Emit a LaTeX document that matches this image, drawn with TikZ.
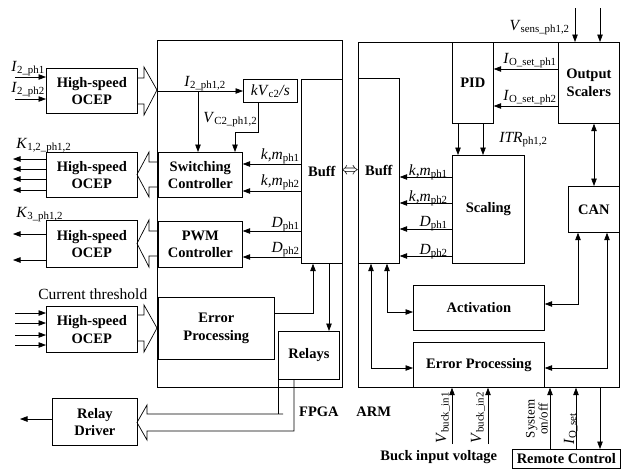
\documentclass[tikz,border=0pt]{standalone}
\usepackage{fontspec}
\setmainfont{Liberation Serif}
\usetikzlibrary{arrows.meta}
\newcommand\vs[2]{\textit{#1}\textsubscript{#2}}
\begin{document}
\begin{tikzpicture}[x=1pt,y=-1pt, line width=0.7pt,
 box/.style={draw, inner sep=0pt, align=center, anchor=north west, font=\bfseries\fontsize{14.5}{17.5}\selectfont},
 lab/.style={inner sep=0pt, font=\fontsize{15.5}{17}\selectfont},
 blab/.style={inner sep=0pt, font=\bfseries\fontsize{14.5}{17}\selectfont},
 arr/.style={-{Triangle[length=7.5pt,width=5.5pt]}},
 darr/.style={{Triangle[length=7.5pt,width=5.5pt]}-{Triangle[length=7.5pt,width=5.5pt]}}]
\useasboundingbox (0,0) rectangle (622,469);

% big frames
\node[box, minimum width=185pt, minimum height=347pt] (fpga) at (157,40) {};
\node[box, minimum width=261pt, minimum height=345pt] (arm) at (358,42) {};

% FPGA side
\node[box, minimum width=91pt, minimum height=45pt] (oc1) at (46,68) {High-speed\\OCEP};
\node[box, minimum width=91pt, minimum height=45pt] (oc2) at (46,152) {High-speed\\OCEP};
\node[box, minimum width=91pt, minimum height=47pt] (oc3) at (46,220) {High-speed\\OCEP};
\node[box, minimum width=91pt, minimum height=46pt] (oc4) at (46,306) {High-speed\\OCEP};
\node[box, minimum width=85pt, minimum height=47pt] (rd) at (52,398) {Relay\\Driver};
\node[box, minimum width=54pt, minimum height=23pt, font=\fontsize{15.5}{17}\selectfont] (kv) at (243,79) {\textit{kV}\textsubscript{c2}\textit{/s}};
\node[box, minimum width=84pt, minimum height=45pt] (sc) at (158,152) {Switching\\Controller};
\node[box, minimum width=84pt, minimum height=46pt] (pwm) at (158,221) {PWM\\Controller};
\node[box, minimum width=41pt, minimum height=184pt] (buffF) at (301,79) {Buff};
\node[box, minimum width=116pt, minimum height=62pt] (epF) at (158,297) {Error\\Processing};
\node[box, minimum width=61pt, minimum height=48pt] (relays) at (278,331) {Relays};

% ARM side
\node[box, minimum width=41pt, minimum height=185pt] (buffA) at (358,78) {Buff};
\node[box, minimum width=41pt, minimum height=81pt] (pid) at (452,42) {PID};
\node[box, minimum width=61pt, minimum height=81pt] (os) at (558,42) {Output\\Scalers};
\node[box, minimum width=72pt, minimum height=108pt] (scal) at (452,155) {Scaling};
\node[box, minimum width=51pt, minimum height=46pt] (can) at (568,186) {CAN};
\node[box, minimum width=131pt, minimum height=45pt] (act) at (413,285) {Activation};
\node[box, minimum width=131pt, minimum height=45pt] (epA) at (413,342) {Error Processing};
\node[box, minimum width=108pt, minimum height=19pt] (rc) at (512,449) {Remote Control};

% hollow arrows
\draw (137,78) -- (144,78) -- (144,67) -- (157,90) -- (144,115) -- (144,104) -- (137,104);
\draw (158,162) -- (149,162) -- (149,152) -- (137,174.5) -- (149,197) -- (149,187) -- (158,187);
\draw (158,231) -- (149,231) -- (149,220) -- (137,243.5) -- (149,267) -- (149,256) -- (158,256);
\draw (137,315) -- (144,315) -- (144,305) -- (157,328) -- (144,352) -- (144,341) -- (137,341);
\draw (278,379) -- (278,414);
\draw (283,414) -- (147,414) -- (147,405) -- (137,422.5) -- (147,440) -- (147,431) -- (294,431) -- (294,379);

% OCEP inputs / outputs
\draw[arr] (15,77) -- (oc1.west |- 0,77);
\draw[arr] (15,99) -- (oc1.west |- 0,99);
\foreach \y in {159,169,179,190} \draw[arr] (oc2.west |- 0,\y) -- (13,\y);
\foreach \y in {234,260} \draw[arr] (oc3.west |- 0,\y) -- (13,\y);
\foreach \y in {313,323,335,345} \draw[arr] (15,\y) -- (oc4.west |- 0,\y);
\draw[arr] (rd.west |- 0,419) -- (20,419);

% FPGA internal
\draw[arr] (fpga.west |- 0,91) -- (kv.west |- 0,91);
\draw[arr] (198,91) -- (sc.north -| 198,0);
\draw[arr] (kv.south -| 258,0) -- (258,132) -- (235,132) -- (sc.north -| 235,0);
\foreach \y in {164,191} \draw[arr] (buffF.west |- 0,\y) -- (sc.east |- 0,\y);
\foreach \y in {231,257} \draw[arr] (buffF.west |- 0,\y) -- (pwm.east |- 0,\y);
\draw[arr] (epF.east |- 0,313) -- (313,313) -- (buffF.south -| 313,0);
\draw[arr] (buffF.south -| 329,0) -- (relays.north -| 329,0);

% link
\node[inner sep=0pt, font=\fontsize{17}{17}\selectfont] (lnk) at (350,171) {$\Leftrightarrow$};

% ARM internal
\draw[arr] (575,8) -- (os.north -| 575,0);
\draw[arr] (600,8) -- (os.north -| 600,0);
\draw[arr] (os.west |- 0,69) -- (pid.east |- 0,69);
\draw[arr] (os.west |- 0,106) -- (pid.east |- 0,106);
\draw[arr] (pid.south -| 458,0) -- (scal.north -| 458,0);
\draw[arr] (pid.south -| 483,0) -- (scal.north -| 483,0);
\draw[darr] (os.south -| 594,0) -- (can.north -| 594,0);
\foreach \y in {177,203,229,256} \draw[arr] (scal.west |- 0,\y) -- (buffA.east |- 0,\y);
\draw[darr] (buffA.south -| 387,0) -- (387,312) -- (act.west |- 0,312);
\draw[darr] (buffA.south -| 371,0) -- (371,368) -- (epA.west |- 0,368);
\draw[darr] (can.south -| 578,0) -- (578,304) -- (act.east |- 0,304);
\draw[darr] (can.south -| 607,0) -- (607,368) -- (epA.east |- 0,368);
\draw[arr] (452,444) -- (arm.south -| 452,0);
\draw[arr] (488,444) -- (arm.south -| 488,0);
\draw[arr] (rc.north -| 550,0) -- (arm.south -| 550,0);
\draw[arr] (rc.north -| 576,0) -- (arm.south -| 576,0);
\draw[arr] (arm.south -| 600,0) -- (rc.north -| 600,0);

% labels
\node[lab, anchor=base west] at (11,71) {\vs{I}{2\_ph1}};
\node[lab, anchor=base west] at (11,92) {\vs{I}{2\_ph2}};
\node[lab, anchor=base west] at (184,86) {\vs{I}{2\_ph1,2}};
\node[lab, anchor=base west] at (203,122) {\vs{V}{C2\_ph1,2}};
\node[lab, anchor=base east] at (300,159) {\vs{k,m}{ph1}};
\node[lab, anchor=base east] at (300,185) {\vs{k,m}{ph2}};
\node[lab, anchor=base east] at (300,227) {\vs{D}{ph1}};
\node[lab, anchor=base east] at (300,252) {\vs{D}{ph2}};
\node[lab, anchor=base west] at (16,148) {\vs{K}{1,2\_ph1,2}};
\node[lab, anchor=base west] at (16,217) {\vs{K}{3\_ph1,2}};
\node[lab, anchor=base west] at (38,299) {Current threshold};
\node[lab, anchor=base east] at (570,30) {\vs{V}{sens\_ph1,2}};
\node[lab, anchor=base east] at (557,63) {\vs{I}{O\_set\_ph1}};
\node[lab, anchor=base east] at (557,100) {\vs{I}{O\_set\_ph2}};
\node[lab, anchor=base west] at (499,142) {\vs{ITR}{ph1,2}};
\node[lab, anchor=base east] at (448,175) {\vs{k,m}{ph1}};
\node[lab, anchor=base east] at (448,201) {\vs{k,m}{ph2}};
\node[lab, anchor=base east] at (448,226) {\vs{D}{ph1}};
\node[lab, anchor=base east] at (448,254) {\vs{D}{ph2}};
\node[lab, rotate=90, anchor=base west] at (446,444) {\vs{V}{buck\_in1}};
\node[lab, rotate=90, anchor=base west] at (481,444) {\vs{V}{buck\_in2}};
\node[inner sep=0pt, rotate=90, align=center, anchor=south, font=\fontsize{13}{11}\selectfont] at (548,419) {System\\on/off};
\node[lab, rotate=90, anchor=base west] at (574,445) {\vs{I}{O\_set}};
\node[blab, anchor=base east] at (339,416) {FPGA};
\node[blab, anchor=base west] at (356,416) {ARM};
\node[blab, anchor=base west] at (380,460) {Buck input voltage};
\end{tikzpicture}
\end{document}
